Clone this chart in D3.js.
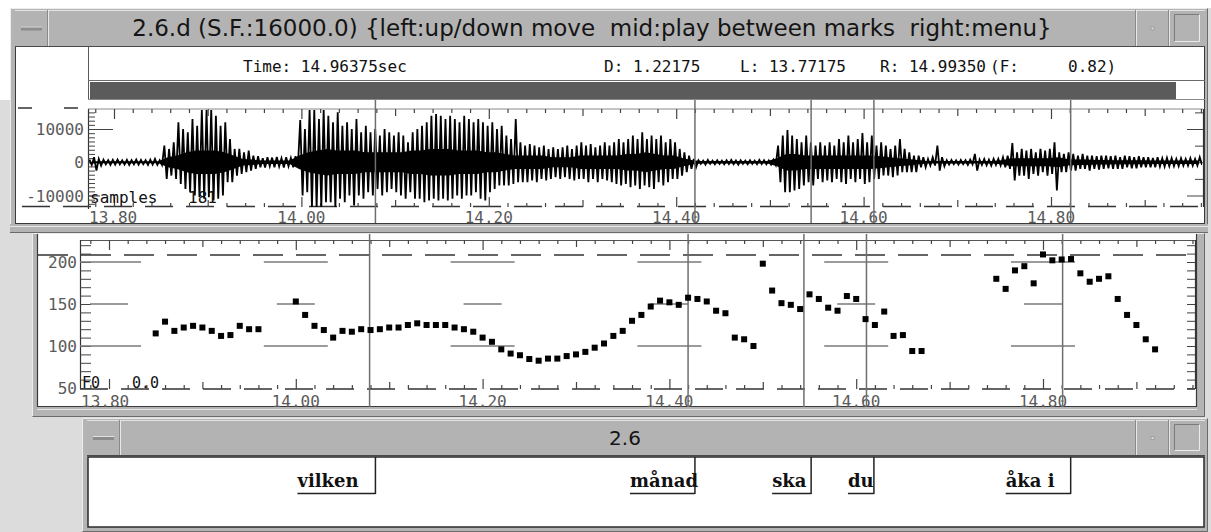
<!DOCTYPE html>
<html><head><meta charset="utf-8">
<script src="https://cdn.jsdelivr.net/npm/d3@7"></script>
<style>html,body{margin:0;padding:0;background:#dcdcdc;overflow:hidden}svg{display:block}text{white-space:pre}</style>
</head><body><svg id="c" width="1211" height="532"></svg>
<script>
// ---------------- DATA ----------------
const titleMain = "2.6.d (S.F.:16000.0) {left:up/down move  mid:play between marks  right:menu}";
const titleLabels = "2.6";
const infoTime = "Time: 14.96375sec";
const infoParts = ["D: 1.22175", "L: 13.77175", "R: 14.99350", "(F:", "0.82)"];
const xTickLabels = ["13.80", "14.00", "14.20", "14.40", "14.60", "14.80"];
const xTickValues = [13.8, 14.0, 14.2, 14.4, 14.6, 14.8];
const waveYLabels = ["10000", "0", "-10000"];
const waveYValues = [10000, 0, -10000];
const f0YLabels = ["200", "150", "100", "50"];
const f0YValues = [200, 150, 100, 50];
const markTimes = [14.079, 14.420, 14.544, 14.611, 14.821];
const wordLabels = ["vilken", "månad", "ska", "du", "åka i"];
const wordEnds = [14.079, 14.420, 14.544, 14.611, 14.821];

// waveform peak envelope (thousands), one bin per 5 ms starting 13.775 s
const waveStart = 13.775, waveStep = 0.005;
const waveHi = [0.8,1.5,1,0.8,0.6,0.7,0.8,0.6,0.7,0.6,0.8,0.7,0.6,0.8,1,
 0.6,
 5,4,6,12,10,9,13,11,15.8,15.8,15.8,14,11,12,7,4,4,3,3.5,2,
 1.8,1.2,1.5,1.4,1.6,1.2,1.5,1.3,1.8,
 12.7,10,15.8,15.8,13,15.8,14,12,15,11,12,10,13,9,11,9,10,8,10,9,8,9,
 8,6,9,
 10,11,12,14,14.5,14,13,14,13,12,14,13,12,13,12,11,12,10,11,8,7,13,
 6,5,5.5,5,4.5,5,4,4.5,4,4.5,5,4,5,6,5,5.5,4.5,5,6,5,6,7,6,7,8,7,9,7,8,7,8,6,7,6,4,3,2,
 1,
 0.6,0.5,0.7,0.5,0.6,0.5,0.6,0.7,0.5,0.6,0.5,0.6,0.5,0.7,0.6,0.5,0.8,
 5,8,9.7,8,7,6,
 8,6,5,6,5,6,5,7,6,8,6,7,8.8,6,8,5,6,5,4,5,7,4,3,2,2,1.5,1,1.5,
 5,1.5,
 0.6,0.7,0.6,0.7,0.6,0.8,
 2.5,
 0.8,1,0.8,1,1,
 1.5,2,5.8,3,4,3.5,4,3,4,3.5,4,6,3,2.5,3,
 2.5,2,2.5,2,2,1.8,2,2,1.8,2,1.5,2,1.8,1.5,1.8,1.5,1.5,1.3,1.5,1.2,1.3,1.2,1,1.2,1,1.2,1,1.5];
const waveLo = [-0.8,-2.5,-1,-0.6,-0.8,-0.7,-0.6,-0.7,-0.8,-0.6,-0.7,-0.6,-0.8,-0.7,-0.8,
 -0.8,
 -5,-4,-5,-6.5,-8,-9,-10,-10.5,-11,-10.5,-11.5,-11,-10,-6,-6,-4,-3.5,-3,-2.5,-2,
 -1.5,-1.6,-1.2,-1.5,-1.3,-1.6,-1.2,-1.5,-1.4,
 -10,-9,-13.6,-13.6,-13.6,-12,-12,-13.6,-11,-12,-10,-13,-10,-11,-9,-10,-8,-10,-9,-8,-9,-10,
 -11,-9,-11,
 -11,-12,-11.5,-11,-11.5,-11,-11.5,-11,-10,-11,-10,-10,-9,-11,-11.5,-9,-8,-7,-7,-7,-6.5,-6,
 -6,-6,-5.5,-6,-5,-5.5,-5,-4.5,-5,-4.5,-5,-5.5,-5,-5,-6,-5,-6,-5,-5.5,-6,-6.5,-7,-6.5,-7.5,-7,-8,-7,-7.5,-8,-6,-7,-6,-5,-5,-4,-3,-2,
 -1.5,
 -0.5,-0.7,-0.5,-0.6,-0.5,-0.6,-0.5,-0.6,-0.7,-0.5,-0.6,-0.5,-0.6,-0.5,-0.6,-0.7,-0.8,
 -6,-9,-9,-8.5,-8,-7,
 -6,-7,-5,-6,-5.5,-6,-5,-6,-6.5,-5,-6,-5,-6.5,-6,-5,-5,-4,-4,-4.5,-4,-3,-3,-3,-3,-1.5,-1.5,-1,-1,
 -2.5,-1.2,
 -0.7,-0.6,-0.7,-0.6,-0.8,-0.6,
 -2.5,
 -0.8,-0.9,-1,-0.8,-1,
 -1.5,-2,-5.5,-4,-4,-5,-3.5,-4,-3,-4,-3.5,-8.5,-3,-3,-2.5,
 -2.5,-2,-2,-2.5,-2,-2.2,-2,-1.8,-2,-2,-2,-1.5,-1.8,-1.8,-1.5,-1.5,-1.5,-1.5,-1.3,-1.3,-1.2,-1.2,-1.2,-1,-1,-1,-1,-0.8];
// solid core amplitude (thousands), one value per 10 ms starting 13.7775 s
const coreStart = 13.7775, coreStep = 0.01;
const waveCore = [0.3,0.3,0.3,0.3,0.3,0.3,0.3,0.3,
 1.5,2,3,3.5,3.5,3.5,3,2,1,0.8,
 0.5,0.5,0.5,0.5,
 2,3,3.5,4,3.5,3.5,3.5,3,3,3,3,3,
 3.5,3.5,4,4,4,3.5,3.5,3.5,3,3,2.5,2,2,2,2,1.5,1.5,1.5,2,2,2,2,2,2.5,2.5,3,2.5,2,2,1.2,0.6,
 0.35,0.35,0.35,0.35,0.35,0.35,0.35,0.35,
 1.2,2.5,2.5,2,2,2,2,2,2,2,2,1.8,1.5,1.2,1,0.7,
 0.35,0.35,0.35,0.35,0.35,0.35,0.35,0.35,
 0.6,1.2,1.2,1.2,1.2,1.2,1.5,1,
 0.8,0.8,0.7,0.7,0.6,0.6,0.6,0.6,0.5,0.5,0.5,0.5,0.5,0.5];

// F0 track (Hz), one frame per 10 ms starting 13.85 s; null = unvoiced
const f0Start = 13.85, f0Step = 0.01;
const f0Values = [115,129,118,122,124,122,118,112,113,124,120,120,null,null,null,
 153,137,124,119,110,118,117,120,119,120,
 122,122,125,127,125,125,125,122,120,117,
 110,105,96,91,89,84.5,82.5,85,85,88,
 90,93,98,103,112,118,130,137,147,154,
 152,149,157.5,156,153,142,139,110,108,100,
 198,166,151,149,144,161.5,156,145.6,142,159.5,
 156,132,125,141,112,113,94,94,null,null,
 null,null,null,null,null,180,168,190,195,174.6,
 209,202,203,203.5,186.5,176.5,180,183,156,137,
 125,108,96];

// ---------------- SCALES ----------------
const xW = d3.scaleLinear().domain([13.8, 14.8]).range([114, 1051]);
const yW = d3.scaleLinear().domain([-10000, 10000]).range([195.5, 129]);
const xF = d3.scaleLinear().domain([13.8, 14.8]).range([109, 1043]);
const yF = d3.scaleLinear().domain([50, 200]).range([388, 262]);
const W = {x0: 88, x1: 1203, y0: 109, y1: 207};
const F = {x0: 80, x1: 1195, y0: 240, y1: 389};

const svg = d3.select("#c");
const MONO = "'DejaVu Sans Mono', monospace";
const SANS = "'DejaVu Sans', sans-serif";

function rect(g, x, y, w, h, fill, stroke, sw) {
  return g.append("rect").attr("x", x).attr("y", y).attr("width", w).attr("height", h)
    .attr("fill", fill || "none").attr("stroke", stroke || "none").attr("stroke-width", sw || 1);
}
function line(g, x1, y1, x2, y2, c, w, dash) {
  const l = g.append("line").attr("x1", x1).attr("y1", y1).attr("x2", x2).attr("y2", y2)
    .attr("stroke", c).attr("stroke-width", w || 1);
  if (dash) l.attr("stroke-dasharray", dash);
  return l;
}
function bevel(g, x, y, w, h, fill, lt, dk) {
  rect(g, x, y, w, h, fill);
  line(g, x + 0.5, y + 0.5, x + w - 0.5, y + 0.5, lt);
  line(g, x + 0.5, y + 0.5, x + 0.5, y + h - 0.5, lt);
  line(g, x + 0.5, y + h - 0.5, x + w - 0.5, y + h - 0.5, dk);
  line(g, x + w - 0.5, y + 0.5, x + w - 0.5, y + h - 0.5, dk);
}
function fitText(t, target) {
  const len = t.node().getComputedTextLength();
  const fs = parseFloat(t.attr("font-size"));
  t.attr("font-size", fs * target / len);
}
function titleBar(g, x, y, w, h, title, cx, titleW) {
  rect(g, x, y, w, h, "#b3b3b3");
  line(g, x, y + 0.5, x + w, y + 0.5, "#e4e4e4");
  line(g, x, y + h - 0.5, x + w, y + h - 0.5, "#4a4a4a");
  line(g, x + 33.5, y, x + 33.5, y + h - 1, "#e8e8e8");
  line(g, x + 32.5, y, x + 32.5, y + h - 1, "#8a8a8a");
  rect(g, x + 6, y + h / 2 - 2, 21, 4, "#8c8c8c");
  line(g, x + 6, y + h / 2 - 1.5, x + 27, y + h / 2 - 1.5, "#e0e0e0");
  line(g, x + w - 68.5, y, x + w - 68.5, y + h - 1, "#e8e8e8");
  line(g, x + w - 69.5, y, x + w - 69.5, y + h - 1, "#8a8a8a");
  line(g, x + w - 35.5, y, x + w - 35.5, y + h - 1, "#e8e8e8");
  line(g, x + w - 36.5, y, x + w - 36.5, y + h - 1, "#8a8a8a");
  rect(g, x + w - 54, y + h / 2 - 1.5, 3, 3, "#d8d8d8", "#8a8a8a", 0.6);
  bevel(g, x + w - 31, y + 4, 26, h - 9, "#b3b3b3", "#7a7a7a", "#ececec");
  const t = g.append("text").attr("x", cx).attr("y", y + h / 2 + 7).attr("text-anchor", "middle")
    .attr("font-family", SANS).attr("font-size", 20).attr("fill", "#151515").text(title);
  if (titleW) fitText(t, titleW);
}

// ---------------- BACKGROUND & WINDOWS ----------------
rect(svg, 0, 0, 1211, 532, "#dcdcdc");
rect(svg, 0, 0, 1211, 8, "#ffffff");
rect(svg, 0, 0, 10, 100, "#ffffff");

bevel(svg, 10, 8, 1198, 225, "#b4b4b4", "#ededed", "#6a6a6a");
titleBar(svg, 15, 10, 1190, 37, titleMain, 592, 920);
rect(svg, 15, 47, 1190, 177, "#ffffff");
line(svg, 15.5, 47, 15.5, 224, "#3a3a3a");
line(svg, 1204.5, 47, 1204.5, 224, "#3a3a3a");

line(svg, 88.5, 47, 88.5, 100, "#5a5a5a");
line(svg, 88, 80.5, 1205, 80.5, "#6a6a6a");
rect(svg, 90, 82, 1086, 17, "#5b5b5b");
line(svg, 88, 99.5, 1205, 99.5, "#8a8a8a");
svg.append("text").attr("x", 243).attr("y", 72).attr("font-family", MONO).attr("font-size", 16)
  .attr("fill", "#111").text(infoTime);
const infoX = [604, 740, 880, 990, 1068];
infoParts.forEach((s, i) => svg.append("text").attr("x", infoX[i]).attr("y", 72)
  .attr("font-family", MONO).attr("font-size", 16).attr("fill", "#111").text(s));

bevel(svg, 32, 233, 1173, 184, "#b4b4b4", "#ededed", "#6a6a6a");
rect(svg, 37, 234, 1160, 173, "#ffffff");
line(svg, 37.5, 234, 37.5, 407, "#3a3a3a", 1.2);
line(svg, 1196.5, 234, 1196.5, 407, "#3a3a3a", 1.2);
line(svg, 37, 406.5, 1197, 406.5, "#3a3a3a", 1.2);
line(svg, 37, 409.5, 1197, 409.5, "#e6e6e6");
rect(svg, 10, 224, 1198, 9, "#b4b4b4");
line(svg, 15, 223.5, 1205, 223.5, "#3a3a3a", 1.2);
line(svg, 10, 232.5, 1208, 232.5, "#6a6a6a");
line(svg, 10, 226.5, 1208, 226.5, "#e6e6e6");

bevel(svg, 82, 418, 1126, 114, "#b4b4b4", "#ededed", "#6a6a6a");
titleBar(svg, 87, 420, 1118, 36, titleLabels, 625, null);
rect(svg, 88, 457, 1116, 70, "#ffffff", "#2a2a2a", 1.5);

// ---------------- WAVEFORM PANEL ----------------
const gw = svg.append("g");
line(gw, 18, 108, 88, 108, "#333", 1.5, "14,32");
line(gw, W.x0, W.y0, W.x1, W.y0, "#8a8a8a", 1);
line(gw, W.x0 + 0.5, W.y0, W.x0 + 0.5, W.y1 + 2, "#333", 1.2);
line(gw, 22, 206.5, W.x1, 206.5, "#333", 1.3, "28,13");

const tickTimes = d3.range(689, 749).map(k => k / 50);
const tickLen = t => { const k = Math.round(t * 50); return k % 10 === 0 ? 10 : (k % 5 === 0 ? 7 : 4); };
function xTicks(g, sc, yTop, yBot, x0, x1) {
  const tv = tickTimes.filter(t => sc(t) > x0 + 2 && sc(t) < x1 - 2);
  const top = g.append("g").attr("transform", `translate(0,${yTop})`)
    .call(d3.axisBottom(sc).tickValues(tv).tickSize(0).tickFormat(""));
  top.select(".domain").remove();
  top.selectAll(".tick line").attr("y2", d => tickLen(d)).attr("stroke", "#444").attr("stroke-width", 1.2);
  const bot = g.append("g").attr("transform", `translate(0,${yBot})`)
    .call(d3.axisTop(sc).tickValues(tv).tickSize(0).tickFormat(""));
  bot.select(".domain").remove();
  bot.selectAll(".tick line").attr("y2", d => -tickLen(d)).attr("stroke", "#444").attr("stroke-width", 1.2);
}
xTicks(gw, xW, W.y0, W.y1, W.x0, W.x1);

const wMinor = d3.range(-10, 13).map(k => k * 1250);
const wl = gw.append("g").attr("transform", `translate(${W.x0},0)`)
  .call(d3.axisRight(yW).tickValues(wMinor).tickSize(7).tickFormat(""));
wl.select(".domain").remove();
wl.selectAll(".tick line").attr("stroke", "#444");
const wlm = gw.append("g").attr("transform", `translate(${W.x0},0)`)
  .call(d3.axisRight(yW).tickValues(waveYValues).tickSize(12).tickFormat(""));
wlm.select(".domain").remove();
wlm.selectAll(".tick line").attr("stroke", "#444").attr("x2", d => d === 10000 ? 25 : 12);
const wr = gw.append("g").attr("transform", `translate(${W.x1},0)`)
  .call(d3.axisLeft(yW).tickValues(d3.range(-2, 4).map(k => k * 5000)).tickSize(8).tickFormat(""));
wr.select(".domain").remove();
wr.selectAll(".tick line").attr("stroke", "#444").attr("x2", d => d % 10000 === 0 ? -16 : -8);
line(gw, W.x1 + 0.5, W.y0, W.x1 + 0.5, W.y1, "#333", 1.2);

waveYLabels.forEach((s, i) => gw.append("text").attr("x", 84).attr("y", yW(waveYValues[i]) + 6)
  .attr("text-anchor", "end").attr("font-family", MONO).attr("font-size", 16).attr("fill", "#5a5a5a").text(s));
xTickLabels.forEach((s, i) => {
  const first = i === 0;
  gw.append("text").attr("x", first ? W.x0 + 1 : xW(xTickValues[i])).attr("y", 223)
    .attr("text-anchor", first ? "start" : "middle").attr("font-family", MONO).attr("font-size", 16)
    .attr("fill", "#5a5a5a").text(s);
});

gw.append("clipPath").attr("id", "wclip").append("rect").attr("x", W.x0 + 1).attr("y", W.y0 + 1)
  .attr("width", W.x1 - W.x0 - 2).attr("height", W.y1 - W.y0 - 1);
const coreData = waveCore.map((c, j) => ({t: coreStart + j * coreStep, c}));
gw.append("path").attr("clip-path", "url(#wclip)")
  .attr("d", d3.area().x(d => xW(d.t)).y0(d => yW(-d.c * 1000)).y1(d => yW(d.c * 1000))(coreData))
  .attr("fill", "#000");
const wpts = [];
waveHi.forEach((h, i) => {
  const t = waveStart + i * waveStep;
  wpts.push([xW(t - waveStep * 0.25), yW(h * 1000)]);
  wpts.push([xW(t + waveStep * 0.25), yW(waveLo[i] * 1000)]);
});
gw.append("path").attr("clip-path", "url(#wclip)").attr("d", d3.line()(wpts))
  .attr("fill", "none").attr("stroke", "#000").attr("stroke-width", 1.8).attr("stroke-linejoin", "miter");

gw.append("text").attr("x", 90).attr("y", 203).attr("font-family", MONO).attr("font-size", 16).attr("fill", "#111").text("samples");
gw.append("text").attr("x", 188).attr("y", 203).attr("font-family", MONO).attr("font-size", 16).attr("fill", "#111").text("181");

markTimes.forEach(t => line(gw, xW(t), 100, xW(t), 223, "#6e6e6e", 1.5));

// ---------------- F0 PANEL ----------------
const gf = svg.append("g");
line(gf, F.x0, F.y0 + 0.5, F.x1, F.y0 + 0.5, "#555", 1.2);
line(gf, F.x0 + 0.5, F.y0, F.x0 + 0.5, F.y1, "#333", 1.2);
line(gf, F.x1 + 0.5, F.y0, F.x1 + 0.5, F.y1, "#333", 1.2);
line(gf, 38, 255, F.x1, 255, "#333", 1.5, "30,13");
line(gf, F.x0, 389, F.x1, 389, "#333", 1.5, "28,13");
xTicks(gf, xF, F.y0, F.y1, F.x0, F.x1);
const fMinor = d3.range(5, 23).map(k => k * 10);
const fl = gf.append("g").attr("transform", `translate(${F.x0},0)`)
  .call(d3.axisRight(yF).tickValues(fMinor).tickSize(11).tickFormat(""));
fl.select(".domain").remove();
fl.selectAll(".tick line").attr("stroke", "#444");
const fr = gf.append("g").attr("transform", `translate(${F.x1},0)`)
  .call(d3.axisLeft(yF).tickValues(fMinor).tickSize(8).tickFormat(""));
fr.select(".domain").remove();
fr.selectAll(".tick line").attr("stroke", "#444");
const crossT = [13.8, 14.0, 14.2, 14.4, 14.6, 14.8, 15.0];
crossT.forEach(t => {
  [[200, 32], [150, 19], [100, 32]].forEach(([f, hw]) => {
    const a = Math.max(F.x0, xF(t) - hw), b = Math.min(F.x1, xF(t) + hw);
    if (b > a) line(gf, a, yF(f), b, yF(f), "#7a7a7a", 1.3);
  });
});
f0YLabels.forEach((s, i) => gf.append("text").attr("x", 77).attr("y", yF(f0YValues[i]) + 6)
  .attr("text-anchor", "end").attr("font-family", MONO).attr("font-size", 16).attr("fill", "#5a5a5a").text(s));
xTickLabels.forEach((s, i) => {
  const first = i === 0;
  gf.append("text").attr("x", first ? F.x0 + 1 : xF(xTickValues[i])).attr("y", 407)
    .attr("text-anchor", first ? "start" : "middle").attr("font-family", MONO).attr("font-size", 16)
    .attr("fill", "#5a5a5a").text(s);
});
gf.append("text").attr("x", 82).attr("y", 388).attr("font-family", MONO).attr("font-size", 15).attr("fill", "#111").text("F0");
gf.append("text").attr("x", 132).attr("y", 388).attr("font-family", MONO).attr("font-size", 15).attr("fill", "#111").text("0.0");
markTimes.forEach(t => line(gf, xF(t), 234, xF(t), 407, "#6e6e6e", 1.5));
const f0pts = f0Values.map((v, i) => ({t: f0Start + i * f0Step, v})).filter(d => d.v !== null);
gf.selectAll("rect.f0").data(f0pts).join("rect").attr("class", "f0")
  .attr("x", d => xF(d.t) - 3).attr("y", d => yF(d.v) - 3).attr("width", 6).attr("height", 6).attr("fill", "#000");

// ---------------- LABEL PANEL ----------------
const gl = svg.append("g");
wordLabels.forEach((w, i) => {
  const xe = xW(wordEnds[i]);
  const xs = xe - [...w].length * 13;
  line(gl, xe, 457, xe, 494, "#222", 1.5);
  line(gl, xs, 493.5, xe, 493.5, "#222", 1.5);
  gl.append("text").attr("x", xs).attr("y", 487).attr("font-family", "'DejaVu Serif', serif")
    .attr("font-weight", "bold").attr("font-size", 18).attr("fill", "#111").text(w);
});
</script></body></html>
